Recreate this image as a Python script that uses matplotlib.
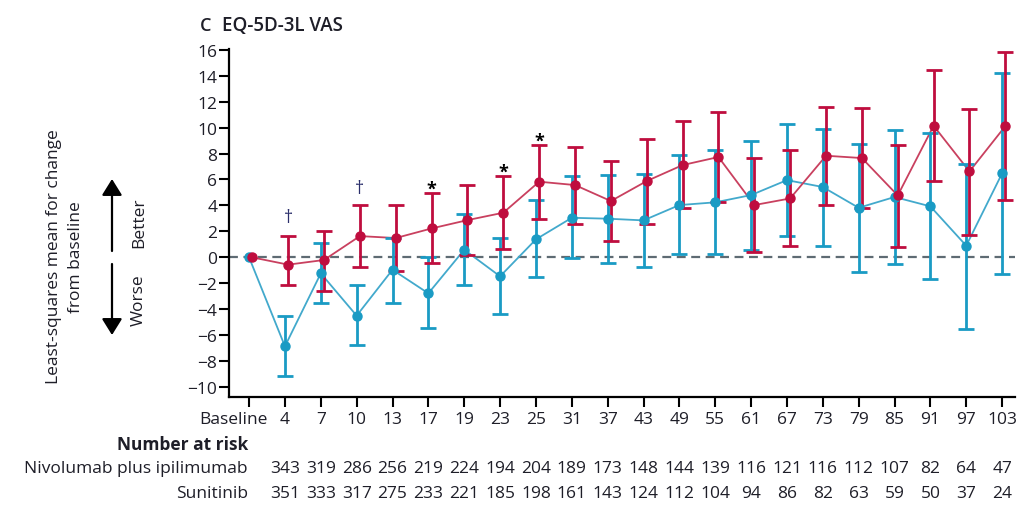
"""
EQ-5D-3L VAS: least-squares mean change from baseline by visit week,
nivolumab plus ipilimumab versus sunitinib, with numbers at risk below.
"""

import numpy as np
import matplotlib.pyplot as plt
from matplotlib import transforms


plt.rcParams["font.family"] = ["Open Sans", "DejaVu Sans"]

# Visit weeks shown on the x axis.
week_labels = ["Baseline", "4", "7", "10", "13", "17", "19", "23", "25", "31", "37",
               "43", "49", "55", "61", "67", "73", "79", "85", "91", "97", "103"]

# Nivolumab plus ipilimumab: mean and 95% CI bounds (baseline has no CI).
nivo_mean = [0, -0.56, -0.20, 1.64, 1.49, 2.23, 2.87, 3.44, 5.83, 5.57, 4.34,
             5.88, 7.11, 7.73, 4.03, 4.54, 7.83, 7.65, 4.77, 10.14, 6.62, 10.11]
nivo_upper = [1.67, 2.05, 4.03, 4.03, 4.95, 5.60, 6.29, 8.68, 8.52, 7.39,
              9.14, 10.50, 11.19, 7.65, 8.24, 11.60, 11.50, 8.68, 14.45, 11.42, 15.81]
nivo_lower = [-2.13, -2.57, -0.77, -1.03, -0.44, 0.18, 0.62, 2.93, 2.59, 1.23,
              2.59, 3.77, 4.29, 0.39, 0.85, 4.06, 3.77, 0.77, 5.85, 1.72, 4.41]

# Sunitinib: mean and 95% CI bounds.
suni_mean = [0, -6.85, -1.23, -4.49, -0.95, -2.77, 0.59, -1.46, 1.39, 3.05, 2.98,
             2.85, 4.03, 4.24, 4.80, 5.95, 5.42, 3.82, 4.65, 3.93, 0.90, 6.47]
suni_upper = [-4.54, 1.10, -2.10, 1.46, 0.00, 3.36, 1.46, 4.39, 6.29, 6.37,
              6.44, 7.91, 8.26, 8.93, 10.29, 9.88, 8.75, 9.80, 9.55, 7.21, 14.22]
suni_lower = [-9.11, -3.54, -6.75, -3.54, -5.42, -2.13, -4.39, -1.54, -0.08, -0.44,
              -0.77, 0.26, 0.26, 0.59, 1.64, 0.85, -1.10, -0.51, -1.69, -5.49, -1.31]

# Number at risk per visit (weeks 4 to 103).
nivo_at_risk = [343, 319, 286, 256, 219, 224, 194, 204, 189, 173, 148,
                144, 139, 116, 121, 116, 112, 107, 82, 64, 47]
suni_at_risk = [351, 333, 317, 275, 233, 221, 185, 198, 161, 143, 124,
                112, 104, 94, 86, 82, 63, 59, 50, 37, 24]

# Significance marks above the nivolumab bars: (week index, symbol, height, colour).
sig_marks = [(1, "\u2020", 3.1, "#2b2f6b"), (3, "\u2020", 5.35, "#2b2f6b"),
             (5, "*", 5.3, "black"), (7, "*", 6.6, "black"), (8, "*", 9.0, "black")]

RED = "#bf0d3e"
RED_LINE = "#c9405f"
BLUE = "#1a9bc4"
BLUE_LINE = "#42a9cc"
TXT = "#1e1e28"
W, H = 1018, 506


def fy(py):
    # pixel row from the top -> figure fraction
    return 1 - py / H


def fx(px):
    return px / W


def draw_series(ax, x, mean, lower, upper, col, line_col):
    mean = np.array(mean)
    ax.plot(x, mean, color=line_col, lw=1.3, zorder=3)
    xe = x[1:]
    me = mean[1:]
    yerr = np.vstack([me - np.array(lower), np.array(upper) - me])
    ax.errorbar(xe, me, yerr=yerr, fmt="none", ecolor=col, elinewidth=2.0,
                capsize=5.5, capthick=2.0, zorder=4)
    ax.plot(x, mean, "o", color=col, ms=6.5, zorder=5)


fig = plt.figure(figsize=(W / 100, H / 100), dpi=100)
ax = fig.add_axes([fx(229), fy(397.7), fx(1015) - fx(229), fy(50) - fy(397.7)])

x = np.arange(len(week_labels))
ax.axhline(0, color="#5e6b73", lw=1.6, ls=(0, (4, 2.5)), zorder=1)
draw_series(ax, x, suni_mean, suni_lower, suni_upper, BLUE, BLUE_LINE)
draw_series(ax, x + 0.09, nivo_mean, nivo_lower, nivo_upper, RED, RED_LINE)

for i, sym, yv, c in sig_marks:
    ax.text(i + 0.09, yv, sym, ha="center", va="center", fontsize=13,
            color=c, fontweight="bold" if sym == "*" else "normal")

ax.set_xlim(-0.56, 21.36)
ax.set_ylim(-10.73, 16.05)
ax.set_yticks(np.arange(-10, 17, 2))
ax.set_xticks(x)
ax.set_xticklabels(week_labels)
ax.spines["top"].set_visible(False)
ax.spines["right"].set_visible(False)
for s in ["left", "bottom"]:
    ax.spines[s].set_linewidth(1.6)
ax.tick_params(axis="both", width=1.5, labelsize=12.5, color="black",
               labelcolor=TXT)
ax.tick_params(axis="y", length=7.5, pad=1)
ax.tick_params(axis="x", length=7, pad=3)

# "Baseline" sits left of its tick so it clears the week 4 label
base_lbl = ax.get_xticklabels()[0]
base_lbl.set_transform(base_lbl.get_transform() +
                       transforms.ScaledTranslation(-16 / 100, 0, fig.dpi_scale_trans))

# Title and axis label
fig.text(fx(200), fy(26), "C", fontsize=13, fontweight="semibold", va="center",
         ha="left", color=TXT)
fig.text(fx(222), fy(26), "EQ-5D-3L VAS", fontsize=13.5, fontweight="semibold",
         va="center", ha="left", color=TXT)
fig.text(fx(65), fy(257), "Least-squares mean for change\nfrom baseline", rotation=90,
         ha="center", va="center", fontsize=12.5, linespacing=1.45, color=TXT)

# Better / worse arrows
arrow = dict(arrowstyle="-|>,head_length=0.45,head_width=0.28", lw=1.6,
             color="black", mutation_scale=22, shrinkA=0, shrinkB=0)
ax.annotate("", xy=(fx(112), fy(180)), xytext=(fx(112), fy(252)),
            xycoords="figure fraction", textcoords="figure fraction", arrowprops=arrow)
ax.annotate("", xy=(fx(112), fy(336)), xytext=(fx(112), fy(265)),
            xycoords="figure fraction", textcoords="figure fraction", arrowprops=arrow)
fig.text(fx(139), fy(223), "Better", rotation=90, ha="center", va="center",
         fontsize=12.5, color=TXT)
fig.text(fx(139), fy(300), "Worse", rotation=90, ha="center", va="center",
         fontsize=12.5, color=TXT)

# Number at risk table
tr = transforms.blended_transform_factory(ax.transData, fig.transFigure)
fig.text(fx(248), fy(445), "Number at risk", ha="right", va="center",
         fontsize=12.5, fontweight="bold", color=TXT)
fig.text(fx(248), fy(469), "Nivolumab plus ipilimumab", ha="right", va="center",
         fontsize=12.5, color=TXT)
fig.text(fx(248), fy(494), "Sunitinib", ha="right", va="center", fontsize=12.5, color=TXT)
for i in range(len(nivo_at_risk)):
    ax.text(x[i + 1], fy(469), str(nivo_at_risk[i]), transform=tr, ha="center",
            va="center", fontsize=12.5, color=TXT)
    ax.text(x[i + 1], fy(494), str(suni_at_risk[i]), transform=tr, ha="center",
            va="center", fontsize=12.5, color=TXT)

fig.savefig("out.png", dpi=100)
